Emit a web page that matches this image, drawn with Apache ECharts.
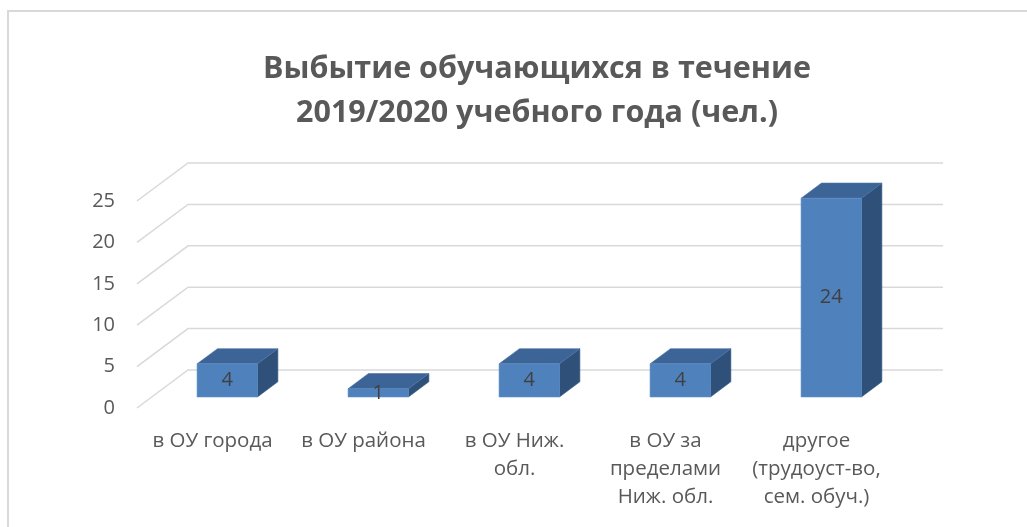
<!DOCTYPE html>
<html>
<head>
<meta charset="utf-8">
<script src="https://cdn.jsdelivr.net/npm/echarts@6/dist/echarts.min.js"></script>
<style>
  html, body { margin: 0; padding: 0; background: #fff; }
  #main { width: 1027px; height: 527px; }
</style>
</head>
<body>
<div id="main"></div>
<script>
// данные
var categories = ['в ОУ города', 'в ОУ района', 'в ОУ Ниж.\nобл.', 'в ОУ за\nпределами\nНиж. обл.', 'другое\n(трудоуст-во,\nсем. обуч.)'];
var values = [4, 1, 4, 4, 24];
var yTicks = [0, 5, 10, 15, 20, 25];

// 3D "глубина" (как в Excel)
var DEPTH_X = 51, DEPTH_Y = -38;
var BAR_FRONT = 0.29, BAR_DEPTH = 0.4, BAR_WIDTH = 0.4;

var chart = echarts.init(document.getElementById('main'));

function gridRender(params, api) {
  var cs = params.coordSys;
  var y = api.coord([0, api.value(0)])[1];
  var x0 = cs.x, x1 = cs.x + cs.width;
  return {
    type: 'polyline',
    shape: { points: [[x0, y], [x0 + DEPTH_X, y + DEPTH_Y], [x1 + DEPTH_X, y + DEPTH_Y]] },
    style: { stroke: '#d9d9d9', lineWidth: 1.5, fill: null },
    silent: true
  };
}

function barRender(params, api) {
  var idx = api.value(0);
  var val = api.value(1);
  var top = api.coord([idx, val]);
  var base = api.coord([idx, 0]);
  var catW = api.size([1, 0])[0];
  var w = catW * BAR_WIDTH;
  var fx = DEPTH_X * BAR_FRONT, fy = DEPTH_Y * BAR_FRONT;
  var dx = DEPTH_X * BAR_DEPTH, dy = DEPTH_Y * BAR_DEPTH;
  var xl = top[0] + fx - w / 2, xr = top[0] + fx + w / 2;
  var yt = top[1] + fy, yb = base[1] + fy;
  return {
    type: 'group',
    children: [
      {
        type: 'polygon',
        shape: { points: [[xr, yb], [xr + dx, yb + dy], [xr + dx, yt + dy], [xr, yt]] },
        style: { fill: '#2f5078', stroke: '#3a5f8c', lineWidth: 0.6 }
      },
      {
        type: 'polygon',
        shape: { points: [[xl, yt], [xl + dx, yt + dy], [xr + dx, yt + dy], [xr, yt]] },
        style: { fill: '#3c6496', stroke: '#4a74a8', lineWidth: 0.6 }
      },
      {
        type: 'rect',
        shape: { x: xl, y: yt, width: w, height: yb - yt },
        style: { fill: '#4f81bd', stroke: '#5b8cc6', lineWidth: 0.6 }
      },
      {
        type: 'text',
        style: {
          text: String(val),
          x: (xl + xr) / 2,
          y: (yt + yb) / 2,
          align: 'center',
          verticalAlign: 'middle',
          fill: '#404040',
          font: '20px "Open Sans"'
        }
      }
    ]
  };
}

var option = {
  backgroundColor: '#fff',
  animation: false,
  title: {
    text: 'Выбытие обучающихся в течение\n2019/2020 учебного года (чел.)',
    left: 532,
    top: 42,
    textAlign: 'center',
    textStyle: {
      fontFamily: 'Open Sans',
      fontSize: 30.5,
      fontWeight: 'bold',
      color: '#595959',
      lineHeight: 44
    }
  },
  graphic: [{
    type: 'rect',
    shape: { x: 8, y: 11, width: 1100, height: 600 },
    style: { fill: null, stroke: '#d9d9d9', lineWidth: 2 },
    silent: true
  }],
  grid: { left: 137, right: 135, top: 201, bottom: 119, containLabel: false },
  xAxis: {
    type: 'category',
    data: categories,
    axisLine: { show: false },
    axisTick: { show: false },
    axisLabel: {
      interval: 0,
      margin: 19,
      fontFamily: 'Open Sans',
      fontSize: 20.5,
      lineHeight: 28,
      color: '#595959'
    }
  },
  yAxis: {
    type: 'value',
    min: 0,
    max: 25,
    interval: 5,
    axisLine: { show: false },
    axisTick: { show: false },
    splitLine: { show: false },
    axisLabel: {
      margin: 22,
      fontFamily: 'Open Sans',
      fontSize: 20,
      color: '#595959'
    }
  },
  series: [
    {
      type: 'custom',
      renderItem: gridRender,
      data: yTicks.map(function (t) { return [t]; }),
      encode: { y: 0 },
      silent: true,
      z: 1
    },
    {
      type: 'custom',
      renderItem: barRender,
      data: values.map(function (v, i) { return [i, v]; }),
      encode: { x: 0, y: 1 },
      z: 2
    }
  ]
};

chart.setOption(option);
</script>
</body>
</html>
